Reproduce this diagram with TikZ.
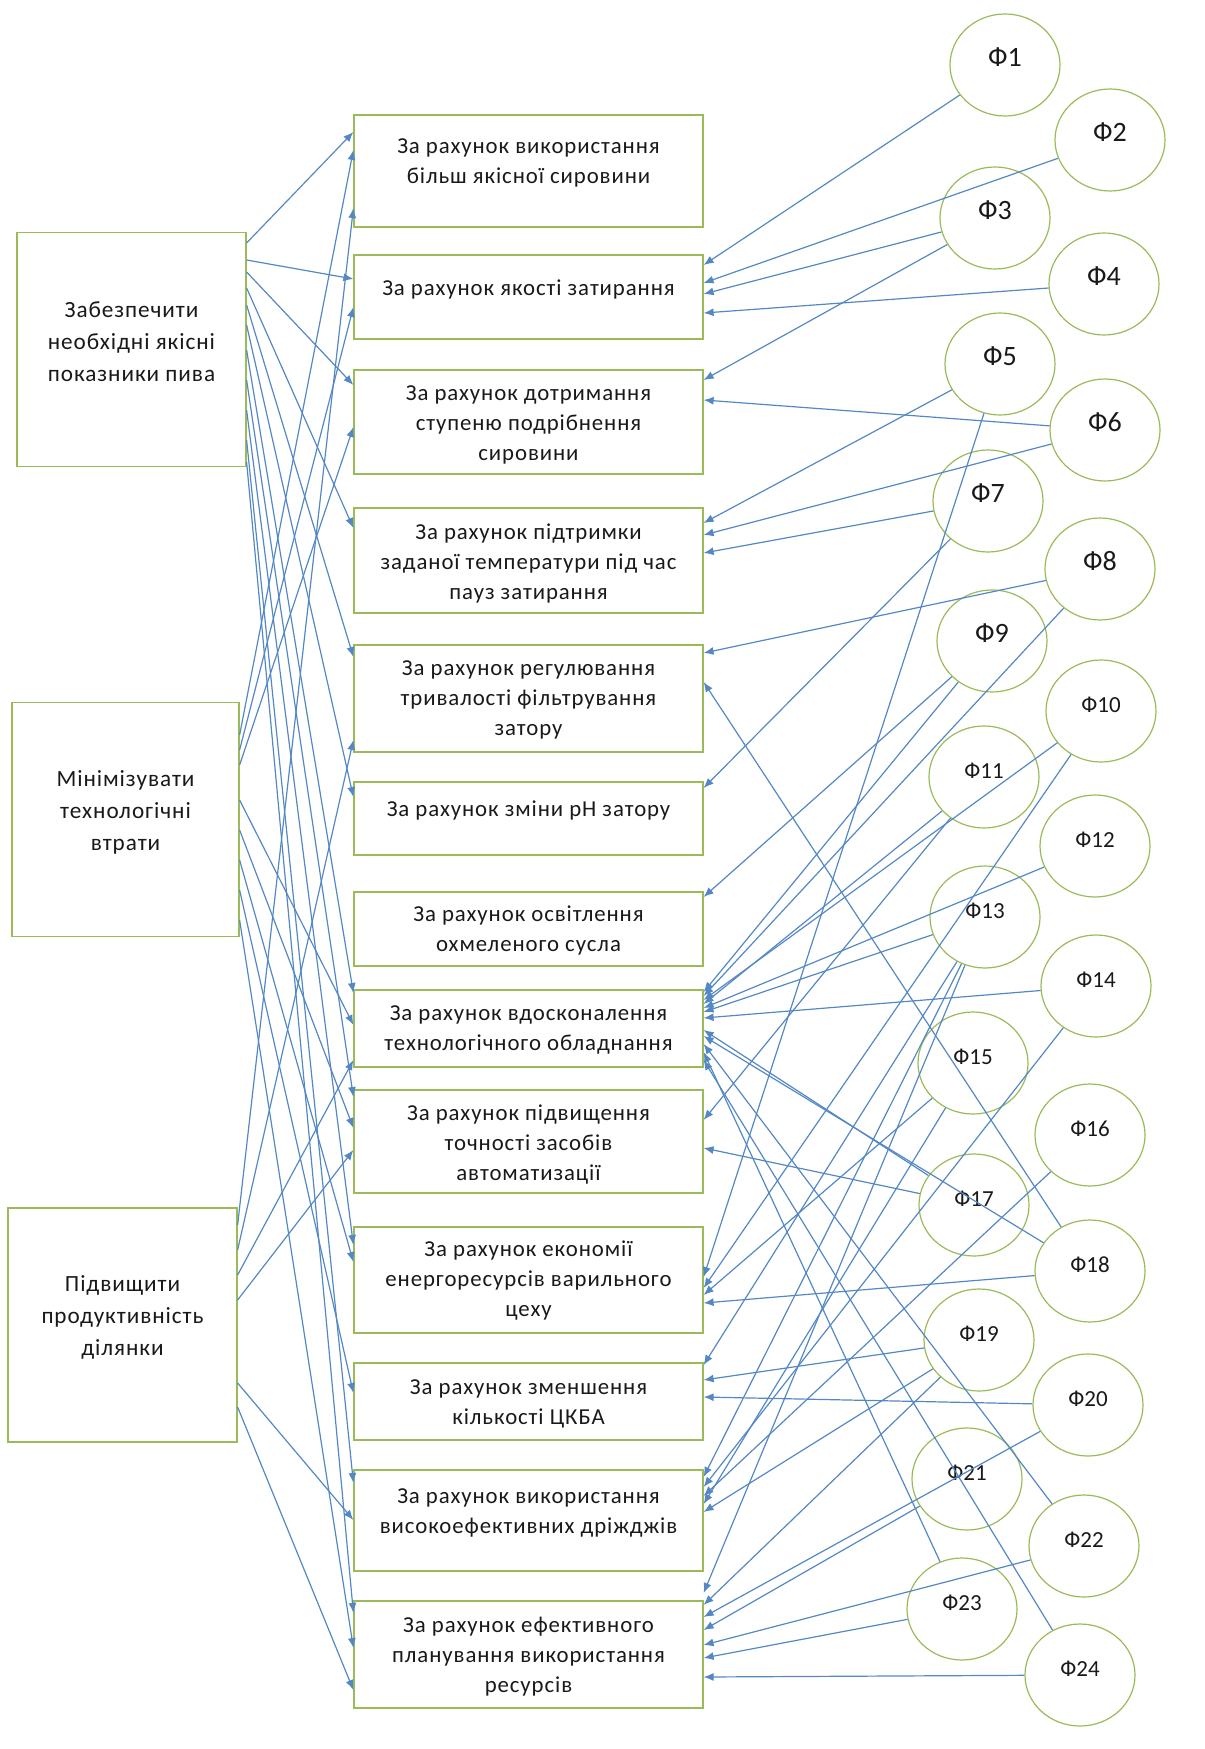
\documentclass[tikz,border=0pt]{standalone}
\usepackage{fontspec}
\setmainfont{Carlito}
\newfontfamily\widefont[LetterSpace=4]{Carlito}
\usetikzlibrary{arrows.meta,shapes.geometric,calc}
\definecolor{boxgreen}{RGB}{155,187,89}
\definecolor{linkblue}{RGB}{84,136,196}
\definecolor{txt}{RGB}{25,25,25}
\begin{document}
\begin{tikzpicture}[x=0.5pt,y=-0.5pt,
  goalbox/.style={draw=boxgreen,line width=0.6pt,minimum width=114.5pt,minimum height=117pt,inner sep=0pt},
  wayboxx/.style={draw=boxgreen,line width=0.6pt,minimum width=174.5pt,inner sep=0pt},
  goaltext/.style={align=center,text=txt,font=\widefont\fontsize{11.6}{16}\selectfont,inner sep=0pt},
  waytext/.style={align=center,text=txt,font=\widefont\fontsize{11.4}{15}\selectfont,inner sep=0pt},
  fcirc/.style={ellipse,draw=boxgreen,line width=0.6pt,minimum width=55pt,minimum height=51pt,inner sep=0pt},
  fbig/.style={text=txt,font=\fontsize{14}{16}\selectfont,inner sep=0pt},
  fsmall/.style={text=txt,font=\fontsize{11.5}{14}\selectfont,inner sep=0pt},
  link/.style={draw=linkblue,line width=0.6pt,-{Latex[length=5pt,width=4pt]}}
]
\useasboundingbox (0,0) rectangle (1204,1749);

% goal boxes on the left
\node[goalbox] (L1) at (131.5,349.5) {};
\node[goaltext] (L1t) at (131.5,342) {Забезпечити\\необхідні якісні\\показники пива};
\node[goalbox,minimum width=113.5pt] (L2) at (125.5,819.5) {};
\node[goaltext] (L2t) at (125.5,812) {Мінімізувати\\технологічні\\втрати};
\node[goalbox] (L3) at (122.5,1325) {};
\node[goaltext] (L3t) at (122.5,1317) {Підвищити\\продуктивність\\ділянки};

% ways in the middle column
\foreach \n/\cy/\h/\ty/\txt in {
  M1/171/56/163/{За рахунок використання\\більш якісної сировини},
  M2/297/42/289/{За рахунок якості затирання},
  M3/422/52/425/{За рахунок дотримання\\ступеню подрібнення\\сировини},
  M4/560.5/52.5/563/{За рахунок підтримки\\заданої температури під час\\пауз затирання},
  M5/698.5/53.5/700/{За рахунок регулювання\\тривалості фільтрування\\затору},
  M6/818.5/36.5/810/{За рахунок зміни рН затору},
  M7/929/37/930/{За рахунок освітлення\\охмеленого сусла},
  M8/1028.5/38.5/1030/{За рахунок вдосконалення\\технологічного обладнання},
  M9/1141.5/51.5/1145/{За рахунок підвищення\\точності засобів\\автоматизації},
  M10/1280/53/1281/{За рахунок економії\\енергоресурсів варильного\\цеху},
  M11/1401.5/38.5/1404/{За рахунок зменшення\\кількості ЦКБА},
  M12/1520.5/50.5/1513/{За рахунок використання\\високоефективних дріжджів},
  M13/1654.5/53.5/1657/{За рахунок ефективного\\планування використання\\ресурсів}} {
  \node[wayboxx,minimum height=\h pt] (\n) at (528.5,\cy) {};
  \node[waytext] (\n t) at (528.5,\ty) {\txt};
}

% factors on the right
\foreach \i/\cx/\cy in {1/1005/65,2/1110/140,3/995/218,4/1104/284,5/1000/364,
  6/1105/430,7/988/501,8/1100/569,9/992/641} {
  \node[fcirc] (F\i) at (\cx,\cy) {};
  \node[fbig] (F\i t) at (\cx,\cy-8) {Ф\i};
}
\foreach \i/\cx/\cy in {10/1101/711,11/984/777,12/1095/846,13/985/917,14/1096/986,
  15/973/1063,16/1090/1135,17/974/1205,18/1090/1271,19/979/1340,20/1088/1405,
  21/967/1479,22/1084/1546,23/962/1609,24/1080/1675} {
  \node[fcirc] (F\i) at (\cx,\cy) {};
  \node[fsmall] (F\i t) at (\cx,\cy-6) {Ф\i};
}

% goals -> ways
\foreach \s/\sy/\t/\ty in {
  L1/243/M1/132, L1/260/M2/279, L1/272/M3/385, L1/288/M4/528, L1/305/M5/657,
  L1/325/M6/797, L1/350/M8/993, L1/380/M9/1097, L1/410/M10/1245,
  L1/440/M12/1483, L1/462/M13/1613,
  L2/735/M1/150, L2/750/M2/307, L2/765/M3/427, L2/800/M8/1025, L2/830/M9/1128,
  L2/860/M10/1262, L2/890/M11/1393, L2/920/M13/1648,
  L3/1225/M1/208, L3/1250/M5/740, L3/1275/M8/1060, L3/1300/M9/1150,
  L3/1383/M12/1520, L3/1407/M13/1690} {
  \draw[link] (\s.east |- 0,\sy) -- (\t.west |- 0,\ty);
}

% factors -> ways
\foreach \f/\t/\ty in {
  1/M2/265, 2/M2/283, 3/M2/294, 4/M2/313, 3/M3/380, 6/M3/400,
  5/M4/523, 6/M4/535, 7/M4/553, 8/M5/653, 18/M5/682, 7/M6/788, 9/M7/897,
  9/M8/992, 8/M8/996, 10/M8/1000, 11/M8/1004, 12/M8/1008, 13/M8/1012,
  14/M8/1018, 17/M8/1030, 18/M8/1036, 22/M8/1044, 23/M8/1052, 24/M8/1060,
  11/M9/1120, 17/M9/1148,
  5/M10/1277, 10/M10/1288, 15/M10/1295, 18/M10/1303,
  13/M11/1365, 19/M11/1380, 20/M11/1397,
  13/M12/1477, 14/M12/1487, 16/M12/1496, 15/M12/1504, 19/M12/1512,
  13/M13/1593, 19/M13/1605, 20/M13/1617, 21/M13/1630, 22/M13/1645,
  23/M13/1658, 24/M13/1677} {
  \draw[link] (F\f) -- (\t.east |- 0,\ty);
}
\end{tikzpicture}
\end{document}
